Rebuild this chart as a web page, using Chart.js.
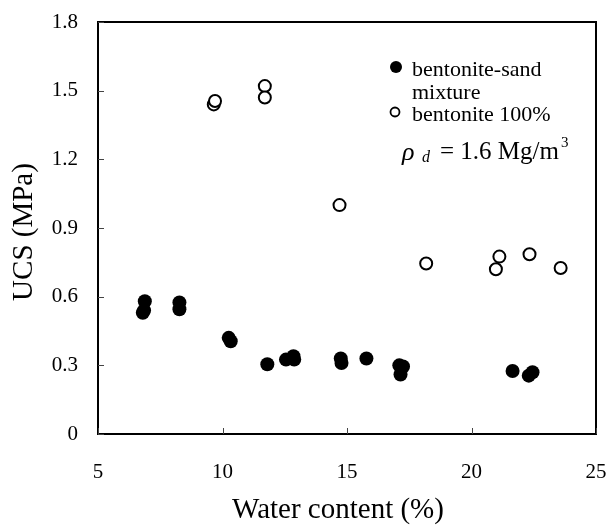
<!DOCTYPE html>
<html>
<head>
<meta charset="utf-8">
<script src="https://cdn.jsdelivr.net/npm/chart.js@4.4.0/dist/chart.umd.min.js"></script>
<style>
  body { margin: 0; background: #fff; }
  #wrap { width: 610px; height: 530px; }
</style>
</head>
<body>
<div id="wrap"><canvas id="ucsChart" width="610" height="530"></canvas></div>
<script>
// UCS vs water content

const sandWater = [6.8, 6.85, 6.88, 8.27, 8.27, 10.25, 10.33, 11.8, 12.55, 12.85, 12.88, 14.75, 14.78, 15.78, 17.1, 17.25, 17.15, 21.65, 22.3, 22.45];
const sandUcs   = [0.53, 0.54, 0.58, 0.575, 0.545, 0.42, 0.405, 0.305, 0.325, 0.34, 0.325, 0.33, 0.31, 0.33, 0.30, 0.295, 0.26, 0.275, 0.255, 0.27];

const bentWater = [9.65, 9.7, 11.7, 11.7, 14.7, 18.18, 20.98, 21.12, 22.33, 23.58];
const bentUcs   = [1.44, 1.455, 1.52, 1.47, 1.0, 0.745, 0.72, 0.775, 0.785, 0.725];

const xTicks = [5, 10, 15, 20, 25];
const yTicks = [0, 0.3, 0.6, 0.9, 1.2, 1.5, 1.8];

const xTitle = 'Water content (%)';
const yTitle = 'UCS (MPa)';
const legendLabels = ['bentonite-sand', 'mixture', 'bentonite 100%'];

const serif = '"Liberation Serif", "DejaVu Serif", serif';

function toPoints(xs, ys) {
    return xs.map((x, i) => ({ x: x, y: ys[i] }));
}

// frame, inward ticks, axis titles and the legend text
const framePlugin = {
    id: 'frame',
    afterDraw(chart) {
        const ctx = chart.ctx;
        const a = chart.chartArea;
        const xs = chart.scales.x;
        const ys = chart.scales.y;
        ctx.save();
        ctx.strokeStyle = '#000';
        ctx.lineWidth = 2;
        ctx.strokeRect(a.left, a.top, a.right - a.left, a.bottom - a.top);

        ctx.lineWidth = 1;
        ctx.strokeStyle = '#444';
        ctx.beginPath();
        xTicks.forEach(v => {
            const px = Math.round(xs.getPixelForValue(v)) + 0.5;
            ctx.moveTo(px, a.bottom);
            ctx.lineTo(px, a.bottom - 6);
        });
        yTicks.forEach(v => {
            const py = Math.round(ys.getPixelForValue(v)) + 0.5;
            ctx.moveTo(a.left, py);
            ctx.lineTo(a.left + 6, py);
        });
        ctx.stroke();

        // axis titles
        ctx.fillStyle = '#000';
        ctx.font = '29px ' + serif;
        ctx.textAlign = 'center';
        ctx.textBaseline = 'middle';
        ctx.fillText(xTitle, 338, 510);
        ctx.save();
        ctx.translate(24, 232);
        ctx.rotate(-Math.PI / 2);
        ctx.fillText(yTitle, 0, 0);
        ctx.restore();

        // legend
        ctx.beginPath();
        ctx.arc(396, 67, 6, 0, Math.PI * 2);
        ctx.fill();
        ctx.fillStyle = '#fff';
        ctx.lineWidth = 1.8;
        ctx.strokeStyle = '#000';
        ctx.beginPath();
        ctx.arc(395, 112, 4.5, 0, Math.PI * 2);
        ctx.fill();
        ctx.stroke();

        ctx.fillStyle = '#000';
        ctx.font = '22px ' + serif;
        ctx.textBaseline = 'alphabetic';
        ctx.textAlign = 'left';
        ctx.fillText(legendLabels[0], 412, 76);
        ctx.fillText(legendLabels[1], 412, 99);
        ctx.fillText(legendLabels[2], 412, 121);

        // rho_d = 1.6 Mg/m3
        ctx.font = 'italic 26px ' + serif;
        ctx.fillText('\u03c1', 402, 160);
        ctx.font = 'italic 16px ' + serif;
        ctx.fillText('d', 422, 162);
        ctx.font = '25px ' + serif;
        ctx.fillText('= 1.6 Mg/m', 440, 159);
        ctx.font = '15px ' + serif;
        ctx.fillText('3', 561, 147);
        ctx.restore();
    }
};

const ctx = document.getElementById('ucsChart');

new Chart(ctx, {
    type: 'scatter',
    data: {
        datasets: [
            {
                label: 'bentonite-sand mixture',
                data: toPoints(sandWater, sandUcs),
                backgroundColor: '#000',
                borderColor: '#000',
                borderWidth: 0,
                pointRadius: 7,
                pointHoverRadius: 7
            },
            {
                label: 'bentonite 100%',
                data: toPoints(bentWater, bentUcs),
                backgroundColor: '#fff',
                borderColor: '#000',
                borderWidth: 2,
                pointRadius: 6,
                pointHoverRadius: 6
            }
        ]
    },
    options: {
        responsive: false,
        animation: false,
        layout: { padding: { left: 0, right: 14, top: 22, bottom: 0 } },
        plugins: {
            legend: { display: false },
            tooltip: { enabled: false }
        },
        scales: {
            x: {
                type: 'linear',
                min: 5,
                max: 25,
                afterBuildTicks: s => { s.ticks = xTicks.map(v => ({ value: v })); },
                afterFit: s => {
                    s.height = 96;
                    s.paddingLeft = 0;
                    s.paddingRight = 0;
                },
                grid: { display: false, drawTicks: false },
                border: { display: false },
                ticks: {
                    color: '#000',
                    padding: 26,
                    maxRotation: 0,
                    font: { family: serif, size: 21 },
                    callback: v => String(v)
                }
            },
            y: {
                type: 'linear',
                min: 0,
                max: 1.8,
                afterBuildTicks: s => { s.ticks = yTicks.map(v => ({ value: v })); },
                afterFit: s => {
                    s.width = 98;
                    s.paddingTop = 0;
                    s.paddingBottom = 0;
                },
                grid: { display: false, drawTicks: false },
                border: { display: false },
                ticks: {
                    color: '#000',
                    padding: 20,
                    font: { family: serif, size: 21 },
                    callback: v => (v === 0 ? '0' : v.toFixed(1))
                }
            }
        }
    },
    plugins: [framePlugin]
});
</script>
</body>
</html>
